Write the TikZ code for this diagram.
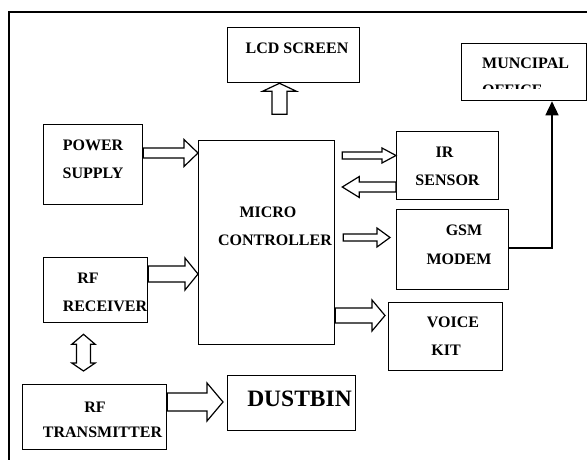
\documentclass[tikz,border=0pt]{standalone}
\usepackage{fontspec}
\setmainfont{Liberation Serif}
\usetikzlibrary{calc,arrows.meta}
\tikzset{
  box/.style={draw, line width=1.3pt, anchor=north west, inner sep=0pt},
  lbl/.style={anchor=base, inner sep=0pt, font=\fontsize{16}{18}\selectfont\bfseries},
  lblw/.style={lbl, anchor=base west},
  barr/.style={draw, line width=1.2pt, fill=white, line join=miter},
}
\newcommand\harr[5]{\path[barr] let \p1=#1, \p2=#2 in
  (\x1,{\y1+#3pt}) -- ({\x2-(#5pt)},{\y1+#3pt}) -- ({\x2-(#5pt)},{\y1+#4pt}) -- (\x2,\y1)
  -- ({\x2-(#5pt)},{\y1-#4pt}) -- ({\x2-(#5pt)},{\y1-#3pt}) -- (\x1,{\y1-#3pt}) -- cycle;}
\begin{document}
\begin{tikzpicture}[x=1pt,y=-1pt]
\useasboundingbox (0,0) rectangle (587,460);
% frame
\draw[line width=1.5pt] (9,460) -- (9,12) -- (587,12);
% boxes
\node[box, minimum width=132pt, minimum height=55pt] (lcd) at (226.5,27) {};
\node[box, minimum width=125pt, minimum height=57pt] (mun) at (461,43) {};
\node[box, minimum width=99pt, minimum height=80pt] (pow) at (43,124) {};
\node[box, minimum width=136pt, minimum height=204pt] (micro) at (198,140) {};
\node[box, minimum width=102pt, minimum height=68pt] (ir) at (396,131) {};
\node[box, minimum width=112pt, minimum height=80pt] (gsm) at (396,209) {};
\node[box, minimum width=104pt, minimum height=65pt] (rec) at (43,257) {};
\node[box, minimum width=114pt, minimum height=68pt] (voice) at (388,302) {};
\node[box, minimum width=144pt, minimum height=65pt] (trans) at (22,384) {};
\node[box, minimum width=128pt, minimum height=55pt] (dust) at (227,375) {};
% labels
\node[lbl] (tlcd) at (297,53.3) {LCD SCREEN};
\begin{scope}
  \clip (461,43) rectangle (586,89);
  \node[lblw] (tmun1) at (482,68.3) {MUNCIPAL};
  \node[lblw] (tmun2) at (482,95.4) {OFFICE};
\end{scope}
\node[lbl] (tpow1) at (93,150.3) {POWER};
\node[lbl] (tpow2) at (93,178.3) {SUPPLY};
\node[lbl] (tmic1) at (268,217.3) {MICRO};
\node[lbl] (tmic2) at (275,245.3) {CONTROLLER};
\node[lbl] (tir1) at (444.6,157.3) {IR};
\node[lbl] (tir2) at (447.5,185.3) {SENSOR};
\node[lbl] (tgsm1) at (464,235.3) {GSM};
\node[lbl] (tgsm2) at (459,264.3) {MODEM};
\node[lbl] (trec1) at (88,283.3) {RF};
\node[lbl] (trec2) at (105,311.3) {RECEIVER};
\node[lbl] (tvoi1) at (453,327.3) {VOICE};
\node[lbl] (tvoi2) at (446,355.3) {KIT};
\node[lbl] (ttr1) at (95,412.3) {RF};
\node[lbl] (ttr2) at (102.5,437.3) {TRANSMITTER};
\node[lbl, font=\fontsize{23.5}{26}\selectfont\bfseries] (tdust) at (299.5,406.8) {DUSTBIN};
% block arrows
\harr{($(pow.north east)+(0,29)$)}{(micro.west)}{5}{13.5}{14}
\harr{($(rec.north east)+(0,17)$)}{(micro.west)}{8}{16}{13}
\harr{($(micro.north east)+(7,15.5)$)}{(ir.west)}{3.5}{7.5}{14}
\harr{($(ir.north west)+(0,56)$)}{($(micro.east)+(7,0)$)}{5}{10.5}{-17}
\harr{($(micro.north east)+(8,97.5)$)}{($(gsm.west)+(-6,0)$)}{3.5}{9.5}{13}
\harr{($(micro.north east)+(0,175.5)$)}{($(voice.west)+(-3,0)$)}{7.5}{15.5}{13}
\harr{($(trans.north east)+(0,18)$)}{($(dust.west)+(-4,0)$)}{9}{19}{16}
% up arrow to LCD
\path[barr] let \p1=($(lcd.south west)+(53,0)$) in
  (\x1,\y1) -- ({\x1+17pt},{\y1-8pt}) -- ({\x1+7.5pt},{\y1-8pt}) -- ({\x1+7.5pt},{\y1-31pt})
  -- ({\x1-7.5pt},{\y1-31pt}) -- ({\x1-7.5pt},{\y1-8pt}) -- ({\x1-17pt},{\y1-8pt}) -- cycle;
% double arrow receiver <-> transmitter
\path[barr] let \p1=($(rec.south west)+(40.5,11)$), \p2=($(trans.north west)+(61.5,-13)$) in
  (\x1,\y1) -- ({\x1+11.7pt},{\y1-10pt}) -- ({\x1+7pt},{\y1-10pt}) -- ({\x1+7pt},{\y2+8pt})
  -- ({\x1+11.7pt},{\y2+8pt}) -- (\x1,\y2) -- ({\x1-11.7pt},{\y2+8pt}) -- ({\x1-7pt},{\y2+8pt})
  -- ({\x1-7pt},{\y1-10pt}) -- ({\x1-11.7pt},{\y1-10pt}) -- cycle;
% GSM -> municipal office
\draw[line width=1.5pt, -{Triangle[width=13pt,length=14pt]}]
  ($(gsm.north east)+(0,39)$) -| ($(mun.south west)+(91,0)$);
\end{tikzpicture}
\end{document}
